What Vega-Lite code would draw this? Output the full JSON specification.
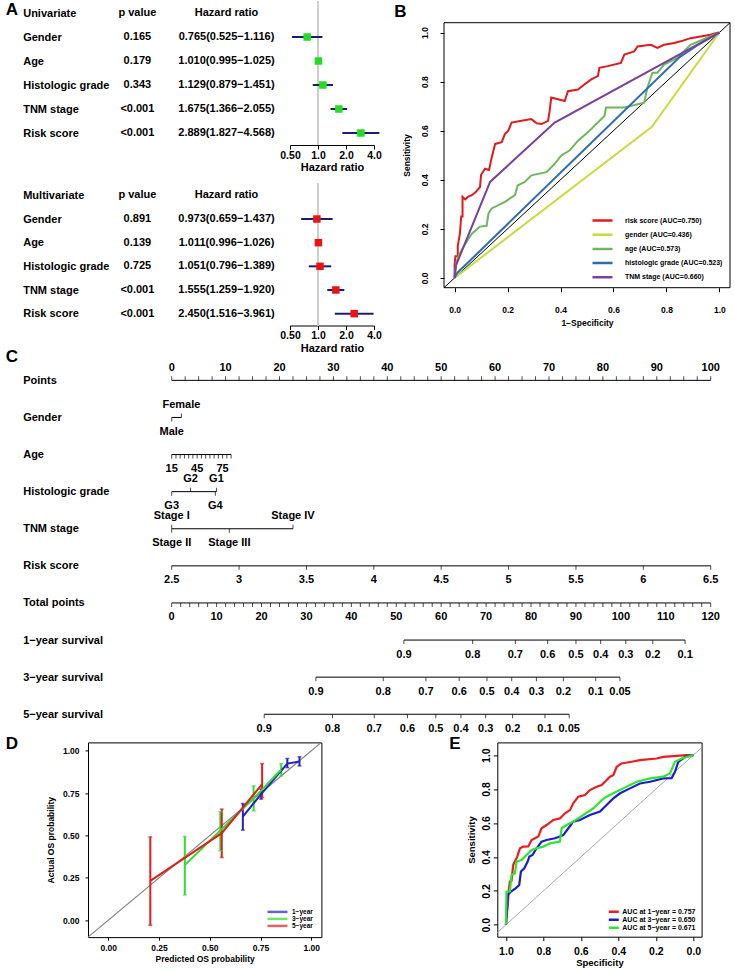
{
"$schema": "https://vega.github.io/schema/vega-lite/v6.json",
"background": "white",
"padding": {"left": 5, "top": 0, "right": 0, "bottom": 0},
"config": {
  "view": {"stroke": null},
  "font": "Liberation Sans",
  "axis": {"labelFont": "Liberation Sans", "titleFont": "Liberation Sans", "labelFontWeight": "bold", "titleFontWeight": "bold", "labelColor": "black", "titleColor": "black", "tickColor": "black", "domainColor": "black", "grid": false},
  "legend": {"labelFont": "Liberation Sans", "labelFontWeight": "bold", "labelColor": "black"},
  "title": {"font": "Liberation Sans", "fontWeight": "bold", "fontSize": 17, "color": "black", "anchor": "start", "baseline": "bottom"},
  "text": {"font": "Liberation Sans", "fontWeight": "bold", "color": "black"}
},
"datasets": {
  "uni": [
    {"variable": "Univariate", "p": "p value", "hrtext": "Hazard ratio"},
    {"variable": "Gender", "p": "0.165", "hrtext": "0.765(0.525−1.116)", "hr": 0.765, "lo": 0.525, "hi": 1.116},
    {"variable": "Age", "p": "0.179", "hrtext": "1.010(0.995−1.025)", "hr": 1.010, "lo": 0.995, "hi": 1.025},
    {"variable": "Histologic grade", "p": "0.343", "hrtext": "1.129(0.879−1.451)", "hr": 1.129, "lo": 0.879, "hi": 1.451},
    {"variable": "TNM stage", "p": "<0.001", "hrtext": "1.675(1.366−2.055)", "hr": 1.675, "lo": 1.366, "hi": 2.055},
    {"variable": "Risk score", "p": "<0.001", "hrtext": "2.889(1.827−4.568)", "hr": 2.889, "lo": 1.827, "hi": 4.568}
  ],
  "multi": [
    {"variable": "Multivariate", "p": "p value", "hrtext": "Hazard ratio"},
    {"variable": "Gender", "p": "0.891", "hrtext": "0.973(0.659−1.437)", "hr": 0.973, "lo": 0.659, "hi": 1.437},
    {"variable": "Age", "p": "0.139", "hrtext": "1.011(0.996−1.026)", "hr": 1.011, "lo": 0.996, "hi": 1.026},
    {"variable": "Histologic grade", "p": "0.725", "hrtext": "1.051(0.796−1.389)", "hr": 1.051, "lo": 0.796, "hi": 1.389},
    {"variable": "TNM stage", "p": "<0.001", "hrtext": "1.555(1.259−1.920)", "hr": 1.555, "lo": 1.259, "hi": 1.920},
    {"variable": "Risk score", "p": "<0.001", "hrtext": "2.450(1.516−3.961)", "hr": 2.450, "lo": 1.516, "hi": 3.961}
  ],
  "roc": [
    {"series": "risk score (AUC=0.750)", "fpr": 0, "tpr": 0},
    {"series": "risk score (AUC=0.750)", "fpr": 0, "tpr": 0.05},
    {"series": "risk score (AUC=0.750)", "fpr": 0.003, "tpr": 0.088},
    {"series": "risk score (AUC=0.750)", "fpr": 0.012, "tpr": 0.088},
    {"series": "risk score (AUC=0.750)", "fpr": 0.012, "tpr": 0.13},
    {"series": "risk score (AUC=0.750)", "fpr": 0.02, "tpr": 0.18},
    {"series": "risk score (AUC=0.750)", "fpr": 0.025, "tpr": 0.25},
    {"series": "risk score (AUC=0.750)", "fpr": 0.03, "tpr": 0.25},
    {"series": "risk score (AUC=0.750)", "fpr": 0.03, "tpr": 0.33},
    {"series": "risk score (AUC=0.750)", "fpr": 0.04, "tpr": 0.32},
    {"series": "risk score (AUC=0.750)", "fpr": 0.05, "tpr": 0.33},
    {"series": "risk score (AUC=0.750)", "fpr": 0.065, "tpr": 0.337},
    {"series": "risk score (AUC=0.750)", "fpr": 0.08, "tpr": 0.35},
    {"series": "risk score (AUC=0.750)", "fpr": 0.096, "tpr": 0.37},
    {"series": "risk score (AUC=0.750)", "fpr": 0.1, "tpr": 0.42},
    {"series": "risk score (AUC=0.750)", "fpr": 0.115, "tpr": 0.445},
    {"series": "risk score (AUC=0.750)", "fpr": 0.13, "tpr": 0.44},
    {"series": "risk score (AUC=0.750)", "fpr": 0.14, "tpr": 0.49},
    {"series": "risk score (AUC=0.750)", "fpr": 0.153, "tpr": 0.546},
    {"series": "risk score (AUC=0.750)", "fpr": 0.178, "tpr": 0.553},
    {"series": "risk score (AUC=0.750)", "fpr": 0.19, "tpr": 0.586},
    {"series": "risk score (AUC=0.750)", "fpr": 0.203, "tpr": 0.6},
    {"series": "risk score (AUC=0.750)", "fpr": 0.215, "tpr": 0.633},
    {"series": "risk score (AUC=0.750)", "fpr": 0.253, "tpr": 0.64},
    {"series": "risk score (AUC=0.750)", "fpr": 0.29, "tpr": 0.647},
    {"series": "risk score (AUC=0.750)", "fpr": 0.31, "tpr": 0.63},
    {"series": "risk score (AUC=0.750)", "fpr": 0.328, "tpr": 0.627},
    {"series": "risk score (AUC=0.750)", "fpr": 0.353, "tpr": 0.64},
    {"series": "risk score (AUC=0.750)", "fpr": 0.359, "tpr": 0.681},
    {"series": "risk score (AUC=0.750)", "fpr": 0.365, "tpr": 0.735},
    {"series": "risk score (AUC=0.750)", "fpr": 0.39, "tpr": 0.728},
    {"series": "risk score (AUC=0.750)", "fpr": 0.416, "tpr": 0.721},
    {"series": "risk score (AUC=0.750)", "fpr": 0.428, "tpr": 0.761},
    {"series": "risk score (AUC=0.750)", "fpr": 0.466, "tpr": 0.768},
    {"series": "risk score (AUC=0.750)", "fpr": 0.49, "tpr": 0.788},
    {"series": "risk score (AUC=0.750)", "fpr": 0.516, "tpr": 0.809},
    {"series": "risk score (AUC=0.750)", "fpr": 0.541, "tpr": 0.822},
    {"series": "risk score (AUC=0.750)", "fpr": 0.547, "tpr": 0.856},
    {"series": "risk score (AUC=0.750)", "fpr": 0.578, "tpr": 0.863},
    {"series": "risk score (AUC=0.750)", "fpr": 0.628, "tpr": 0.876},
    {"series": "risk score (AUC=0.750)", "fpr": 0.641, "tpr": 0.91},
    {"series": "risk score (AUC=0.750)", "fpr": 0.678, "tpr": 0.923},
    {"series": "risk score (AUC=0.750)", "fpr": 0.691, "tpr": 0.943},
    {"series": "risk score (AUC=0.750)", "fpr": 0.741, "tpr": 0.95},
    {"series": "risk score (AUC=0.750)", "fpr": 0.766, "tpr": 0.937},
    {"series": "risk score (AUC=0.750)", "fpr": 0.791, "tpr": 0.95},
    {"series": "risk score (AUC=0.750)", "fpr": 0.829, "tpr": 0.957},
    {"series": "risk score (AUC=0.750)", "fpr": 0.854, "tpr": 0.964},
    {"series": "risk score (AUC=0.750)", "fpr": 0.891, "tpr": 0.977},
    {"series": "risk score (AUC=0.750)", "fpr": 0.929, "tpr": 0.984},
    {"series": "risk score (AUC=0.750)", "fpr": 0.966, "tpr": 0.991},
    {"series": "risk score (AUC=0.750)", "fpr": 0.985, "tpr": 0.997},
    {"series": "risk score (AUC=0.750)", "fpr": 1, "tpr": 1},
    {"series": "gender (AUC=0.436)", "fpr": 0, "tpr": 0},
    {"series": "gender (AUC=0.436)", "fpr": 0.745, "tpr": 0.616},
    {"series": "gender (AUC=0.436)", "fpr": 1, "tpr": 1},
    {"series": "age (AUC=0.573)", "fpr": 0, "tpr": 0},
    {"series": "age (AUC=0.573)", "fpr": 0.006, "tpr": 0.06},
    {"series": "age (AUC=0.573)", "fpr": 0.015, "tpr": 0.09},
    {"series": "age (AUC=0.573)", "fpr": 0.034, "tpr": 0.128},
    {"series": "age (AUC=0.573)", "fpr": 0.065, "tpr": 0.18},
    {"series": "age (AUC=0.573)", "fpr": 0.096, "tpr": 0.209},
    {"series": "age (AUC=0.573)", "fpr": 0.121, "tpr": 0.212},
    {"series": "age (AUC=0.573)", "fpr": 0.128, "tpr": 0.263},
    {"series": "age (AUC=0.573)", "fpr": 0.14, "tpr": 0.283},
    {"series": "age (AUC=0.573)", "fpr": 0.19, "tpr": 0.31},
    {"series": "age (AUC=0.573)", "fpr": 0.228, "tpr": 0.337},
    {"series": "age (AUC=0.573)", "fpr": 0.238, "tpr": 0.377},
    {"series": "age (AUC=0.573)", "fpr": 0.265, "tpr": 0.391},
    {"series": "age (AUC=0.573)", "fpr": 0.29, "tpr": 0.418},
    {"series": "age (AUC=0.573)", "fpr": 0.347, "tpr": 0.431},
    {"series": "age (AUC=0.573)", "fpr": 0.378, "tpr": 0.465},
    {"series": "age (AUC=0.573)", "fpr": 0.403, "tpr": 0.499},
    {"series": "age (AUC=0.573)", "fpr": 0.434, "tpr": 0.519},
    {"series": "age (AUC=0.573)", "fpr": 0.466, "tpr": 0.559},
    {"series": "age (AUC=0.573)", "fpr": 0.503, "tpr": 0.593},
    {"series": "age (AUC=0.573)", "fpr": 0.566, "tpr": 0.66},
    {"series": "age (AUC=0.573)", "fpr": 0.572, "tpr": 0.694},
    {"series": "age (AUC=0.573)", "fpr": 0.641, "tpr": 0.694},
    {"series": "age (AUC=0.573)", "fpr": 0.716, "tpr": 0.714},
    {"series": "age (AUC=0.573)", "fpr": 0.728, "tpr": 0.775},
    {"series": "age (AUC=0.573)", "fpr": 0.747, "tpr": 0.836},
    {"series": "age (AUC=0.573)", "fpr": 0.766, "tpr": 0.836},
    {"series": "age (AUC=0.573)", "fpr": 0.791, "tpr": 0.869},
    {"series": "age (AUC=0.573)", "fpr": 0.841, "tpr": 0.896},
    {"series": "age (AUC=0.573)", "fpr": 0.891, "tpr": 0.95},
    {"series": "age (AUC=0.573)", "fpr": 1, "tpr": 1},
    {"series": "histologic grade (AUC=0.523)", "fpr": 0, "tpr": 0},
    {"series": "histologic grade (AUC=0.523)", "fpr": 0.01, "tpr": 0.02},
    {"series": "histologic grade (AUC=0.523)", "fpr": 0.85, "tpr": 0.9},
    {"series": "histologic grade (AUC=0.523)", "fpr": 0.92, "tpr": 0.95},
    {"series": "histologic grade (AUC=0.523)", "fpr": 1, "tpr": 1},
    {"series": "TNM stage (AUC=0.660)", "fpr": 0, "tpr": 0},
    {"series": "TNM stage (AUC=0.660)", "fpr": 0.005, "tpr": 0.05},
    {"series": "TNM stage (AUC=0.660)", "fpr": 0.134, "tpr": 0.391},
    {"series": "TNM stage (AUC=0.660)", "fpr": 0.378, "tpr": 0.633},
    {"series": "TNM stage (AUC=0.660)", "fpr": 1, "tpr": 1}
  ],
  "nomo1": [
    {"row": "Points", "pts": 0, "label": "0", "pos": "above"},
    {"row": "Points", "pts": 2.5, "pos": "above"},
    {"row": "Points", "pts": 5, "pos": "above"},
    {"row": "Points", "pts": 7.5, "pos": "above"},
    {"row": "Points", "pts": 10, "label": "10", "pos": "above"},
    {"row": "Points", "pts": 12.5, "pos": "above"},
    {"row": "Points", "pts": 15, "pos": "above"},
    {"row": "Points", "pts": 17.5, "pos": "above"},
    {"row": "Points", "pts": 20, "label": "20", "pos": "above"},
    {"row": "Points", "pts": 22.5, "pos": "above"},
    {"row": "Points", "pts": 25, "pos": "above"},
    {"row": "Points", "pts": 27.5, "pos": "above"},
    {"row": "Points", "pts": 30, "label": "30", "pos": "above"},
    {"row": "Points", "pts": 32.5, "pos": "above"},
    {"row": "Points", "pts": 35, "pos": "above"},
    {"row": "Points", "pts": 37.5, "pos": "above"},
    {"row": "Points", "pts": 40, "label": "40", "pos": "above"},
    {"row": "Points", "pts": 42.5, "pos": "above"},
    {"row": "Points", "pts": 45, "pos": "above"},
    {"row": "Points", "pts": 47.5, "pos": "above"},
    {"row": "Points", "pts": 50, "label": "50", "pos": "above"},
    {"row": "Points", "pts": 52.5, "pos": "above"},
    {"row": "Points", "pts": 55, "pos": "above"},
    {"row": "Points", "pts": 57.5, "pos": "above"},
    {"row": "Points", "pts": 60, "label": "60", "pos": "above"},
    {"row": "Points", "pts": 62.5, "pos": "above"},
    {"row": "Points", "pts": 65, "pos": "above"},
    {"row": "Points", "pts": 67.5, "pos": "above"},
    {"row": "Points", "pts": 70, "label": "70", "pos": "above"},
    {"row": "Points", "pts": 72.5, "pos": "above"},
    {"row": "Points", "pts": 75, "pos": "above"},
    {"row": "Points", "pts": 77.5, "pos": "above"},
    {"row": "Points", "pts": 80, "label": "80", "pos": "above"},
    {"row": "Points", "pts": 82.5, "pos": "above"},
    {"row": "Points", "pts": 85, "pos": "above"},
    {"row": "Points", "pts": 87.5, "pos": "above"},
    {"row": "Points", "pts": 90, "label": "90", "pos": "above"},
    {"row": "Points", "pts": 92.5, "pos": "above"},
    {"row": "Points", "pts": 95, "pos": "above"},
    {"row": "Points", "pts": 97.5, "pos": "above"},
    {"row": "Points", "pts": 100, "label": "100", "pos": "above"},
    {"row": "Gender", "pts": 0, "label": "Male", "pos": "below"},
    {"row": "Gender", "pts": 1.8, "label": "Female", "pos": "above"},
    {"row": "Age", "pts": 0, "label": "15", "pos": "below"},
    {"row": "Age", "pts": 0.79, "pos": "below"},
    {"row": "Age", "pts": 1.57, "pos": "below"},
    {"row": "Age", "pts": 2.36, "pos": "below"},
    {"row": "Age", "pts": 3.15, "pos": "below"},
    {"row": "Age", "pts": 3.93, "pos": "below"},
    {"row": "Age", "pts": 4.72, "label": "45", "pos": "below"},
    {"row": "Age", "pts": 5.51, "pos": "below"},
    {"row": "Age", "pts": 6.3, "pos": "below"},
    {"row": "Age", "pts": 7.08, "pos": "below"},
    {"row": "Age", "pts": 7.87, "pos": "below"},
    {"row": "Age", "pts": 8.66, "pos": "below"},
    {"row": "Age", "pts": 9.44, "label": "75", "pos": "below"},
    {"row": "Age", "pts": 10.23, "pos": "below"},
    {"row": "Age", "pts": 11.02, "pos": "below"},
    {"row": "Histologic grade", "pts": 0, "label": "G3", "pos": "below"},
    {"row": "Histologic grade", "pts": 3.5, "label": "G2", "pos": "above"},
    {"row": "Histologic grade", "pts": 8.1, "label": "G4", "pos": "below"},
    {"row": "Histologic grade", "pts": 8.3, "label": "G1", "pos": "above"},
    {"row": "TNM stage", "pts": 0, "label": "Stage I", "pos": "above"},
    {"row": "TNM stage", "pts": 0, "label": "Stage II", "pos": "below"},
    {"row": "TNM stage", "pts": 10.7, "label": "Stage III", "pos": "below"},
    {"row": "TNM stage", "pts": 22.5, "label": "Stage IV", "pos": "above"},
    {"row": "Risk score", "pts": 0, "label": "2.5", "pos": "below"},
    {"row": "Risk score", "pts": 12.5, "label": "3", "pos": "below"},
    {"row": "Risk score", "pts": 25, "label": "3.5", "pos": "below"},
    {"row": "Risk score", "pts": 37.5, "label": "4", "pos": "below"},
    {"row": "Risk score", "pts": 50, "label": "4.5", "pos": "below"},
    {"row": "Risk score", "pts": 62.5, "label": "5", "pos": "below"},
    {"row": "Risk score", "pts": 75, "label": "5.5", "pos": "below"},
    {"row": "Risk score", "pts": 87.5, "label": "6", "pos": "below"},
    {"row": "Risk score", "pts": 100, "label": "6.5", "pos": "below"}
  ],
  "nomo2": [
    {"row": "Total points", "tot": 0, "label": "0", "pos": "below"},
    {"row": "Total points", "tot": 2, "pos": "below"},
    {"row": "Total points", "tot": 4, "pos": "below"},
    {"row": "Total points", "tot": 6, "pos": "below"},
    {"row": "Total points", "tot": 8, "pos": "below"},
    {"row": "Total points", "tot": 10, "label": "10", "pos": "below"},
    {"row": "Total points", "tot": 12, "pos": "below"},
    {"row": "Total points", "tot": 14, "pos": "below"},
    {"row": "Total points", "tot": 16, "pos": "below"},
    {"row": "Total points", "tot": 18, "pos": "below"},
    {"row": "Total points", "tot": 20, "label": "20", "pos": "below"},
    {"row": "Total points", "tot": 22, "pos": "below"},
    {"row": "Total points", "tot": 24, "pos": "below"},
    {"row": "Total points", "tot": 26, "pos": "below"},
    {"row": "Total points", "tot": 28, "pos": "below"},
    {"row": "Total points", "tot": 30, "label": "30", "pos": "below"},
    {"row": "Total points", "tot": 32, "pos": "below"},
    {"row": "Total points", "tot": 34, "pos": "below"},
    {"row": "Total points", "tot": 36, "pos": "below"},
    {"row": "Total points", "tot": 38, "pos": "below"},
    {"row": "Total points", "tot": 40, "label": "40", "pos": "below"},
    {"row": "Total points", "tot": 42, "pos": "below"},
    {"row": "Total points", "tot": 44, "pos": "below"},
    {"row": "Total points", "tot": 46, "pos": "below"},
    {"row": "Total points", "tot": 48, "pos": "below"},
    {"row": "Total points", "tot": 50, "label": "50", "pos": "below"},
    {"row": "Total points", "tot": 52, "pos": "below"},
    {"row": "Total points", "tot": 54, "pos": "below"},
    {"row": "Total points", "tot": 56, "pos": "below"},
    {"row": "Total points", "tot": 58, "pos": "below"},
    {"row": "Total points", "tot": 60, "label": "60", "pos": "below"},
    {"row": "Total points", "tot": 62, "pos": "below"},
    {"row": "Total points", "tot": 64, "pos": "below"},
    {"row": "Total points", "tot": 66, "pos": "below"},
    {"row": "Total points", "tot": 68, "pos": "below"},
    {"row": "Total points", "tot": 70, "label": "70", "pos": "below"},
    {"row": "Total points", "tot": 72, "pos": "below"},
    {"row": "Total points", "tot": 74, "pos": "below"},
    {"row": "Total points", "tot": 76, "pos": "below"},
    {"row": "Total points", "tot": 78, "pos": "below"},
    {"row": "Total points", "tot": 80, "label": "80", "pos": "below"},
    {"row": "Total points", "tot": 82, "pos": "below"},
    {"row": "Total points", "tot": 84, "pos": "below"},
    {"row": "Total points", "tot": 86, "pos": "below"},
    {"row": "Total points", "tot": 88, "pos": "below"},
    {"row": "Total points", "tot": 90, "label": "90", "pos": "below"},
    {"row": "Total points", "tot": 92, "pos": "below"},
    {"row": "Total points", "tot": 94, "pos": "below"},
    {"row": "Total points", "tot": 96, "pos": "below"},
    {"row": "Total points", "tot": 98, "pos": "below"},
    {"row": "Total points", "tot": 100, "label": "100", "pos": "below"},
    {"row": "Total points", "tot": 102, "pos": "below"},
    {"row": "Total points", "tot": 104, "pos": "below"},
    {"row": "Total points", "tot": 106, "pos": "below"},
    {"row": "Total points", "tot": 108, "pos": "below"},
    {"row": "Total points", "tot": 110, "label": "110", "pos": "below"},
    {"row": "Total points", "tot": 112, "pos": "below"},
    {"row": "Total points", "tot": 114, "pos": "below"},
    {"row": "Total points", "tot": 116, "pos": "below"},
    {"row": "Total points", "tot": 118, "pos": "below"},
    {"row": "Total points", "tot": 120, "label": "120", "pos": "below"},
    {"row": "1−year survival", "tot": 51.7, "label": "0.9", "pos": "below"},
    {"row": "1−year survival", "tot": 67.0, "label": "0.8", "pos": "below"},
    {"row": "1−year survival", "tot": 76.5, "label": "0.7", "pos": "below"},
    {"row": "1−year survival", "tot": 83.7, "label": "0.6", "pos": "below"},
    {"row": "1−year survival", "tot": 90.0, "label": "0.5", "pos": "below"},
    {"row": "1−year survival", "tot": 95.5, "label": "0.4", "pos": "below"},
    {"row": "1−year survival", "tot": 101.1, "label": "0.3", "pos": "below"},
    {"row": "1−year survival", "tot": 107.1, "label": "0.2", "pos": "below"},
    {"row": "1−year survival", "tot": 114.3, "label": "0.1", "pos": "below"},
    {"row": "3−year survival", "tot": 32.1, "label": "0.9", "pos": "below"},
    {"row": "3−year survival", "tot": 47.1, "label": "0.8", "pos": "below"},
    {"row": "3−year survival", "tot": 56.6, "label": "0.7", "pos": "below"},
    {"row": "3−year survival", "tot": 64.0, "label": "0.6", "pos": "below"},
    {"row": "3−year survival", "tot": 70.2, "label": "0.5", "pos": "below"},
    {"row": "3−year survival", "tot": 75.7, "label": "0.4", "pos": "below"},
    {"row": "3−year survival", "tot": 81.2, "label": "0.3", "pos": "below"},
    {"row": "3−year survival", "tot": 87.2, "label": "0.2", "pos": "below"},
    {"row": "3−year survival", "tot": 94.4, "label": "0.1", "pos": "below"},
    {"row": "3−year survival", "tot": 99.8, "label": "0.05", "pos": "below"},
    {"row": "5−year survival", "tot": 20.6, "label": "0.9", "pos": "below"},
    {"row": "5−year survival", "tot": 35.8, "label": "0.8", "pos": "below"},
    {"row": "5−year survival", "tot": 45.1, "label": "0.7", "pos": "below"},
    {"row": "5−year survival", "tot": 52.5, "label": "0.6", "pos": "below"},
    {"row": "5−year survival", "tot": 58.8, "label": "0.5", "pos": "below"},
    {"row": "5−year survival", "tot": 64.4, "label": "0.4", "pos": "below"},
    {"row": "5−year survival", "tot": 69.9, "label": "0.3", "pos": "below"},
    {"row": "5−year survival", "tot": 75.9, "label": "0.2", "pos": "below"},
    {"row": "5−year survival", "tot": 83.1, "label": "0.1", "pos": "below"},
    {"row": "5−year survival", "tot": 88.5, "label": "0.05", "pos": "below"}
  ],
  "calib": [
    {"year": "1−year", "pred": 0.663, "obs": 0.612, "lo": 0.532, "hi": 0.689},
    {"year": "1−year", "pred": 0.753, "obs": 0.745, "lo": 0.715, "hi": 0.775},
    {"year": "1−year", "pred": 0.882, "obs": 0.925, "lo": 0.901, "hi": 0.955},
    {"year": "1−year", "pred": 0.942, "obs": 0.937, "lo": 0.911, "hi": 0.965},
    {"year": "3−year", "pred": 0.377, "obs": 0.325, "lo": 0.149, "hi": 0.494},
    {"year": "3−year", "pred": 0.552, "obs": 0.53, "lo": 0.41, "hi": 0.64},
    {"year": "3−year", "pred": 0.716, "obs": 0.72, "lo": 0.646, "hi": 0.793},
    {"year": "3−year", "pred": 0.852, "obs": 0.89, "lo": 0.852, "hi": 0.925},
    {"year": "5−year", "pred": 0.207, "obs": 0.232, "lo": -0.03, "hi": 0.492},
    {"year": "5−year", "pred": 0.559, "obs": 0.514, "lo": 0.37, "hi": 0.656},
    {"year": "5−year", "pred": 0.758, "obs": 0.803, "lo": 0.724, "hi": 0.925}
  ],
  "roc2": [
    {"curve": "AUC at 1−year = 0.757", "spec": 1, "sens": 0},
    {"curve": "AUC at 1−year = 0.757", "spec": 0.99, "sens": 0.12},
    {"curve": "AUC at 1−year = 0.757", "spec": 0.985, "sens": 0.2},
    {"curve": "AUC at 1−year = 0.757", "spec": 0.979, "sens": 0.255},
    {"curve": "AUC at 1−year = 0.757", "spec": 0.97, "sens": 0.26},
    {"curve": "AUC at 1−year = 0.757", "spec": 0.961, "sens": 0.353},
    {"curve": "AUC at 1−year = 0.757", "spec": 0.952, "sens": 0.373},
    {"curve": "AUC at 1−year = 0.757", "spec": 0.94, "sens": 0.4},
    {"curve": "AUC at 1−year = 0.757", "spec": 0.925, "sens": 0.451},
    {"curve": "AUC at 1−year = 0.757", "spec": 0.907, "sens": 0.461},
    {"curve": "AUC at 1−year = 0.757", "spec": 0.881, "sens": 0.462},
    {"curve": "AUC at 1−year = 0.757", "spec": 0.863, "sens": 0.5},
    {"curve": "AUC at 1−year = 0.757", "spec": 0.845, "sens": 0.51},
    {"curve": "AUC at 1−year = 0.757", "spec": 0.827, "sens": 0.52},
    {"curve": "AUC at 1−year = 0.757", "spec": 0.81, "sens": 0.569},
    {"curve": "AUC at 1−year = 0.757", "spec": 0.783, "sens": 0.588},
    {"curve": "AUC at 1−year = 0.757", "spec": 0.747, "sens": 0.618},
    {"curve": "AUC at 1−year = 0.757", "spec": 0.712, "sens": 0.627},
    {"curve": "AUC at 1−year = 0.757", "spec": 0.685, "sens": 0.657},
    {"curve": "AUC at 1−year = 0.757", "spec": 0.658, "sens": 0.676},
    {"curve": "AUC at 1−year = 0.757", "spec": 0.641, "sens": 0.716},
    {"curve": "AUC at 1−year = 0.757", "spec": 0.614, "sens": 0.755},
    {"curve": "AUC at 1−year = 0.757", "spec": 0.578, "sens": 0.765},
    {"curve": "AUC at 1−year = 0.757", "spec": 0.552, "sens": 0.794},
    {"curve": "AUC at 1−year = 0.757", "spec": 0.516, "sens": 0.814},
    {"curve": "AUC at 1−year = 0.757", "spec": 0.489, "sens": 0.824},
    {"curve": "AUC at 1−year = 0.757", "spec": 0.472, "sens": 0.843},
    {"curve": "AUC at 1−year = 0.757", "spec": 0.445, "sens": 0.873},
    {"curve": "AUC at 1−year = 0.757", "spec": 0.427, "sens": 0.882},
    {"curve": "AUC at 1−year = 0.757", "spec": 0.409, "sens": 0.931},
    {"curve": "AUC at 1−year = 0.757", "spec": 0.383, "sens": 0.951},
    {"curve": "AUC at 1−year = 0.757", "spec": 0.329, "sens": 0.961},
    {"curve": "AUC at 1−year = 0.757", "spec": 0.285, "sens": 0.971},
    {"curve": "AUC at 1−year = 0.757", "spec": 0.196, "sens": 0.98},
    {"curve": "AUC at 1−year = 0.757", "spec": 0.16, "sens": 0.99},
    {"curve": "AUC at 1−year = 0.757", "spec": 0.036, "sens": 1},
    {"curve": "AUC at 1−year = 0.757", "spec": 0, "sens": 1},
    {"curve": "AUC at 3−year = 0.650", "spec": 1, "sens": 0},
    {"curve": "AUC at 3−year = 0.650", "spec": 0.996, "sens": 0.059},
    {"curve": "AUC at 3−year = 0.650", "spec": 0.99, "sens": 0.176},
    {"curve": "AUC at 3−year = 0.650", "spec": 0.973, "sens": 0.196},
    {"curve": "AUC at 3−year = 0.650", "spec": 0.947, "sens": 0.216},
    {"curve": "AUC at 3−year = 0.650", "spec": 0.929, "sens": 0.235},
    {"curve": "AUC at 3−year = 0.650", "spec": 0.92, "sens": 0.314},
    {"curve": "AUC at 3−year = 0.650", "spec": 0.902, "sens": 0.333},
    {"curve": "AUC at 3−year = 0.650", "spec": 0.884, "sens": 0.373},
    {"curve": "AUC at 3−year = 0.650", "spec": 0.875, "sens": 0.402},
    {"curve": "AUC at 3−year = 0.650", "spec": 0.858, "sens": 0.412},
    {"curve": "AUC at 3−year = 0.650", "spec": 0.836, "sens": 0.451},
    {"curve": "AUC at 3−year = 0.650", "spec": 0.81, "sens": 0.49},
    {"curve": "AUC at 3−year = 0.650", "spec": 0.783, "sens": 0.5},
    {"curve": "AUC at 3−year = 0.650", "spec": 0.738, "sens": 0.51},
    {"curve": "AUC at 3−year = 0.650", "spec": 0.712, "sens": 0.52},
    {"curve": "AUC at 3−year = 0.650", "spec": 0.694, "sens": 0.529},
    {"curve": "AUC at 3−year = 0.650", "spec": 0.667, "sens": 0.569},
    {"curve": "AUC at 3−year = 0.650", "spec": 0.641, "sens": 0.608},
    {"curve": "AUC at 3−year = 0.650", "spec": 0.605, "sens": 0.618},
    {"curve": "AUC at 3−year = 0.650", "spec": 0.552, "sens": 0.647},
    {"curve": "AUC at 3−year = 0.650", "spec": 0.498, "sens": 0.667},
    {"curve": "AUC at 3−year = 0.650", "spec": 0.463, "sens": 0.706},
    {"curve": "AUC at 3−year = 0.650", "spec": 0.427, "sens": 0.745},
    {"curve": "AUC at 3−year = 0.650", "spec": 0.391, "sens": 0.775},
    {"curve": "AUC at 3−year = 0.650", "spec": 0.338, "sens": 0.804},
    {"curve": "AUC at 3−year = 0.650", "spec": 0.285, "sens": 0.833},
    {"curve": "AUC at 3−year = 0.650", "spec": 0.231, "sens": 0.843},
    {"curve": "AUC at 3−year = 0.650", "spec": 0.16, "sens": 0.863},
    {"curve": "AUC at 3−year = 0.650", "spec": 0.116, "sens": 0.864},
    {"curve": "AUC at 3−year = 0.650", "spec": 0.098, "sens": 0.902},
    {"curve": "AUC at 3−year = 0.650", "spec": 0.08, "sens": 0.961},
    {"curve": "AUC at 3−year = 0.650", "spec": 0.044, "sens": 0.99},
    {"curve": "AUC at 3−year = 0.650", "spec": 0, "sens": 1},
    {"curve": "AUC at 5−year = 0.671", "spec": 1, "sens": 0},
    {"curve": "AUC at 5−year = 0.671", "spec": 0.997, "sens": 0.196},
    {"curve": "AUC at 5−year = 0.671", "spec": 0.979, "sens": 0.197},
    {"curve": "AUC at 5−year = 0.671", "spec": 0.97, "sens": 0.294},
    {"curve": "AUC at 5−year = 0.671", "spec": 0.952, "sens": 0.304},
    {"curve": "AUC at 5−year = 0.671", "spec": 0.943, "sens": 0.373},
    {"curve": "AUC at 5−year = 0.671", "spec": 0.916, "sens": 0.382},
    {"curve": "AUC at 5−year = 0.671", "spec": 0.89, "sens": 0.412},
    {"curve": "AUC at 5−year = 0.671", "spec": 0.863, "sens": 0.441},
    {"curve": "AUC at 5−year = 0.671", "spec": 0.836, "sens": 0.451},
    {"curve": "AUC at 5−year = 0.671", "spec": 0.8, "sens": 0.461},
    {"curve": "AUC at 5−year = 0.671", "spec": 0.765, "sens": 0.48},
    {"curve": "AUC at 5−year = 0.671", "spec": 0.712, "sens": 0.49},
    {"curve": "AUC at 5−year = 0.671", "spec": 0.703, "sens": 0.569},
    {"curve": "AUC at 5−year = 0.671", "spec": 0.676, "sens": 0.588},
    {"curve": "AUC at 5−year = 0.671", "spec": 0.641, "sens": 0.608},
    {"curve": "AUC at 5−year = 0.671", "spec": 0.587, "sens": 0.647},
    {"curve": "AUC at 5−year = 0.671", "spec": 0.534, "sens": 0.686},
    {"curve": "AUC at 5−year = 0.671", "spec": 0.489, "sens": 0.735},
    {"curve": "AUC at 5−year = 0.671", "spec": 0.463, "sens": 0.755},
    {"curve": "AUC at 5−year = 0.671", "spec": 0.427, "sens": 0.775},
    {"curve": "AUC at 5−year = 0.671", "spec": 0.374, "sens": 0.804},
    {"curve": "AUC at 5−year = 0.671", "spec": 0.302, "sens": 0.843},
    {"curve": "AUC at 5−year = 0.671", "spec": 0.231, "sens": 0.863},
    {"curve": "AUC at 5−year = 0.671", "spec": 0.16, "sens": 0.873},
    {"curve": "AUC at 5−year = 0.671", "spec": 0.125, "sens": 0.892},
    {"curve": "AUC at 5−year = 0.671", "spec": 0.098, "sens": 0.961},
    {"curve": "AUC at 5−year = 0.671", "spec": 0.062, "sens": 0.98},
    {"curve": "AUC at 5−year = 0.671", "spec": 0, "sens": 1}
  ]
},
"spacing": -0.6,
"resolve": {"scale": {"color": "independent"}, "legend": {"color": "independent"}},
"vconcat": [
 {
  "spacing": -5.2,
  "resolve": {"scale": {"color": "independent"}, "legend": {"color": "independent"}},
  "vconcat": [
   {
    "spacing": 12,
    "resolve": {"scale": {"color": "independent"}, "legend": {"color": "independent"}},
    "hconcat": [
     {
      "title": {"text": "A", "frame": "bounds", "dx": -17, "offset": -19},
      "spacing": 9.5,
      "vconcat": [
       {
        "spacing": 0, "bounds": "flush",
        "hconcat": [
         {"width": 98.7, "height": 144, "data": {"name": "uni"},
          "mark": {"type": "text", "fontSize": 11, "baseline": "middle"},
          "encoding": {
            "y": {"field": "variable", "type": "nominal", "sort": null, "scale": {"type": "point", "padding": 0.5, "domain": ["Univariate", "Gender", "Age", "Histologic grade", "TNM stage", "Risk score"]},
                  "axis": {"title": null, "domain": false, "ticks": false, "labelAlign": "left", "labelBaseline": "middle", "labelPadding": 65.3, "labelFontSize": 11, "labelLimit": 200}},
            "text": {"field": "p"}}},
         {"width": 103, "height": 144, "data": {"name": "uni"},
          "mark": {"type": "text", "fontSize": 11, "baseline": "middle", "dx": -12},
          "encoding": {
            "y": {"field": "variable", "type": "nominal", "sort": null, "scale": {"type": "point", "padding": 0.5, "domain": ["Univariate", "Gender", "Age", "Histologic grade", "TNM stage", "Risk score"]}, "axis": null},
            "text": {"field": "hrtext"}}},
         {"width": 84, "height": 144, "data": {"name": "uni"},
          "layer": [
           {"mark": {"type": "rule", "color": "#cccccc", "strokeWidth": 1.5},
            "encoding": {"x": {"datum": 1, "type": "quantitative", "scale": {"type": "log", "domain": [0.5, 4], "nice": false},
              "axis": {"values": [0.5, 1, 2, 4], "labelExpr": "datum.value < 1 ? format(datum.value, '.2f') : format(datum.value, '.1f')", "title": "Hazard ratio", "titleFontSize": 11, "labelFontSize": 10.5, "tickSize": 4, "labelPadding": 1, "titlePadding": 1, "labelFlush": false, "labelOverlap": false}}}},
           {"mark": {"type": "rule", "color": "#1c1c78", "strokeWidth": 2},
            "encoding": {
              "x": {"field": "lo", "type": "quantitative", "scale": {"type": "log", "domain": [0.5, 4], "nice": false},
                "axis": {"values": [0.5, 1, 2, 4], "labelExpr": "datum.value < 1 ? format(datum.value, '.2f') : format(datum.value, '.1f')", "title": "Hazard ratio", "titleFontSize": 11, "labelFontSize": 10.5, "tickSize": 4, "labelPadding": 1, "titlePadding": 1, "labelFlush": false, "labelOverlap": false}},
              "x2": {"field": "hi"},
              "y": {"field": "variable", "type": "nominal", "sort": null, "scale": {"type": "point", "padding": 0.5, "domain": ["Univariate", "Gender", "Age", "Histologic grade", "TNM stage", "Risk score"]}, "axis": null}}},
           {"mark": {"type": "point", "shape": "square", "filled": true, "size": 56, "opacity": 1, "color": "#22dd22"},
            "encoding": {
              "x": {"field": "hr", "type": "quantitative", "scale": {"type": "log", "domain": [0.5, 4], "nice": false},
                "axis": {"values": [0.5, 1, 2, 4], "labelExpr": "datum.value < 1 ? format(datum.value, '.2f') : format(datum.value, '.1f')", "title": "Hazard ratio", "titleFontSize": 11, "labelFontSize": 10.5, "tickSize": 4, "labelPadding": 1, "titlePadding": 1, "labelFlush": false, "labelOverlap": false}},
              "y": {"field": "variable", "type": "nominal", "sort": null, "scale": {"type": "point", "padding": 0.5, "domain": ["Univariate", "Gender", "Age", "Histologic grade", "TNM stage", "Risk score"]}, "axis": null}}}
          ]}
        ]
       },
       {
        "spacing": 0, "bounds": "flush",
        "hconcat": [
         {"width": 98.7, "height": 142, "data": {"name": "multi"},
          "mark": {"type": "text", "fontSize": 11, "baseline": "middle"},
          "encoding": {
            "y": {"field": "variable", "type": "nominal", "sort": null, "scale": {"type": "point", "padding": 0.5, "domain": ["Multivariate", "Gender", "Age", "Histologic grade", "TNM stage", "Risk score"]},
                  "axis": {"title": null, "domain": false, "ticks": false, "labelAlign": "left", "labelBaseline": "middle", "labelPadding": 65.3, "labelFontSize": 11, "labelLimit": 200}},
            "text": {"field": "p"}}},
         {"width": 103, "height": 142, "data": {"name": "multi"},
          "mark": {"type": "text", "fontSize": 11, "baseline": "middle", "dx": -12},
          "encoding": {
            "y": {"field": "variable", "type": "nominal", "sort": null, "scale": {"type": "point", "padding": 0.5, "domain": ["Multivariate", "Gender", "Age", "Histologic grade", "TNM stage", "Risk score"]}, "axis": null},
            "text": {"field": "hrtext"}}},
         {"width": 84, "height": 142, "data": {"name": "multi"},
          "layer": [
           {"mark": {"type": "rule", "color": "#cccccc", "strokeWidth": 1.5},
            "encoding": {"x": {"datum": 1, "type": "quantitative", "scale": {"type": "log", "domain": [0.5, 4], "nice": false},
              "axis": {"values": [0.5, 1, 2, 4], "labelExpr": "datum.value < 1 ? format(datum.value, '.2f') : format(datum.value, '.1f')", "title": "Hazard ratio", "titleFontSize": 11, "labelFontSize": 10.5, "tickSize": 4, "labelPadding": 1, "titlePadding": 1, "labelFlush": false, "labelOverlap": false}}}},
           {"mark": {"type": "rule", "color": "#1c1c78", "strokeWidth": 2},
            "encoding": {
              "x": {"field": "lo", "type": "quantitative", "scale": {"type": "log", "domain": [0.5, 4], "nice": false},
                "axis": {"values": [0.5, 1, 2, 4], "labelExpr": "datum.value < 1 ? format(datum.value, '.2f') : format(datum.value, '.1f')", "title": "Hazard ratio", "titleFontSize": 11, "labelFontSize": 10.5, "tickSize": 4, "labelPadding": 1, "titlePadding": 1, "labelFlush": false, "labelOverlap": false}},
              "x2": {"field": "hi"},
              "y": {"field": "variable", "type": "nominal", "sort": null, "scale": {"type": "point", "padding": 0.5, "domain": ["Multivariate", "Gender", "Age", "Histologic grade", "TNM stage", "Risk score"]}, "axis": null}}},
           {"mark": {"type": "point", "shape": "square", "filled": true, "size": 56, "opacity": 1, "color": "#ee1111"},
            "encoding": {
              "x": {"field": "hr", "type": "quantitative", "scale": {"type": "log", "domain": [0.5, 4], "nice": false},
                "axis": {"values": [0.5, 1, 2, 4], "labelExpr": "datum.value < 1 ? format(datum.value, '.2f') : format(datum.value, '.1f')", "title": "Hazard ratio", "titleFontSize": 11, "labelFontSize": 10.5, "tickSize": 4, "labelPadding": 1, "titlePadding": 1, "labelFlush": false, "labelOverlap": false}},
              "y": {"field": "variable", "type": "nominal", "sort": null, "scale": {"type": "point", "padding": 0.5, "domain": ["Multivariate", "Gender", "Age", "Histologic grade", "TNM stage", "Risk score"]}, "axis": null}}}
          ]}
        ]
       }
      ]
     },
     {
      "width": 286, "height": 286.7,
      "title": {"text": "B", "frame": "group", "dx": -49.7, "offset": -20},
      "layer": [
       {"data": {"values": [{}]},
        "mark": {"type": "rect", "fillOpacity": 0, "stroke": "black", "strokeWidth": 1},
        "encoding": {
          "x": {"datum": -0.04, "type": "quantitative", "scale": {"domain": [-0.04, 1.04], "nice": false, "zero": false},
            "axis": {"values": [0, 0.2, 0.4, 0.6, 0.8, 1], "format": ".1f", "title": "1−Specificity", "domain": false, "tickSize": 4, "labelPadding": 14, "labelFontSize": 8.5, "titleFontSize": 8.5, "titlePadding": 4, "labelFlush": false, "labelOverlap": false}},
          "y": {"datum": -0.04, "type": "quantitative", "scale": {"domain": [-0.04, 1.1284], "nice": false, "zero": false},
            "axis": {"values": [0, 0.2, 0.4, 0.6, 0.8, 1], "format": ".1f", "title": "Sensitivity", "titleY": 154, "domain": false, "tickSize": 4, "labelAngle": -90, "labelAlign": "center", "labelBaseline": "bottom", "labelPadding": 11, "labelFontSize": 8.5, "titleFontSize": 8.5, "titlePadding": 9, "labelFlush": false, "labelOverlap": false}},
          "x2": {"datum": 1.04}, "y2": {"datum": 1.04}}},
       {"data": {"values": [{}]},
        "mark": {"type": "rule", "color": "black", "strokeWidth": 1},
        "encoding": {
          "x": {"datum": -0.04, "type": "quantitative", "scale": {"domain": [-0.04, 1.04], "nice": false, "zero": false},
            "axis": {"values": [0, 0.2, 0.4, 0.6, 0.8, 1], "format": ".1f", "title": "1−Specificity", "domain": false, "tickSize": 4, "labelPadding": 14, "labelFontSize": 8.5, "titleFontSize": 8.5, "titlePadding": 4, "labelFlush": false, "labelOverlap": false}},
          "y": {"datum": -0.04, "type": "quantitative", "scale": {"domain": [-0.04, 1.1284], "nice": false, "zero": false},
            "axis": {"values": [0, 0.2, 0.4, 0.6, 0.8, 1], "format": ".1f", "title": "Sensitivity", "titleY": 154, "domain": false, "tickSize": 4, "labelAngle": -90, "labelAlign": "center", "labelBaseline": "bottom", "labelPadding": 11, "labelFontSize": 8.5, "titleFontSize": 8.5, "titlePadding": 9, "labelFlush": false, "labelOverlap": false}},
          "x2": {"datum": 1.04}, "y2": {"datum": 1.04}}},
       {"data": {"name": "roc"},
        "mark": {"type": "line", "strokeWidth": 2},
        "encoding": {
          "x": {"field": "fpr", "type": "quantitative", "scale": {"domain": [-0.04, 1.04], "nice": false, "zero": false},
            "axis": {"values": [0, 0.2, 0.4, 0.6, 0.8, 1], "format": ".1f", "title": "1−Specificity", "domain": false, "tickSize": 4, "labelPadding": 14, "labelFontSize": 8.5, "titleFontSize": 8.5, "titlePadding": 4, "labelFlush": false, "labelOverlap": false}},
          "y": {"field": "tpr", "type": "quantitative", "scale": {"domain": [-0.04, 1.1284], "nice": false, "zero": false},
            "axis": {"values": [0, 0.2, 0.4, 0.6, 0.8, 1], "format": ".1f", "title": "Sensitivity", "titleY": 154, "domain": false, "tickSize": 4, "labelAngle": -90, "labelAlign": "center", "labelBaseline": "bottom", "labelPadding": 11, "labelFontSize": 8.5, "titleFontSize": 8.5, "titlePadding": 9, "labelFlush": false, "labelOverlap": false}},
          "color": {"field": "series", "type": "nominal", "sort": null,
            "scale": {"domain": ["risk score (AUC=0.750)", "gender (AUC=0.436)", "age (AUC=0.573)", "histologic grade (AUC=0.523)", "TNM stage (AUC=0.660)"], "range": ["#e31a1c", "#c8dc3c", "#6cb85a", "#2e6db4", "#7b3fa0"]},
            "legend": {"title": null, "orient": "bottom-right", "offset": 7, "symbolType": "stroke", "symbolSize": 400, "symbolStrokeWidth": 2.5, "labelFontSize": 7, "labelOffset": 11, "clipHeight": 7, "rowPadding": 6.2, "padding": 0}}}}
      ]
     }
    ]
   },
   {
    "width": 622.7, "height": 371,
    "title": {"text": "C", "frame": "group", "dx": -82.3, "offset": -4},
    "layer": [
     {"data": {"name": "nomo1"},
      "layer": [
       {"transform": [{"aggregate": [{"op": "min", "field": "pts", "as": "a"}, {"op": "max", "field": "pts", "as": "b"}], "groupby": ["row"]}],
        "mark": {"type": "rule", "color": "black", "strokeWidth": 1},
        "encoding": {
          "x": {"field": "a", "type": "quantitative", "scale": {"domain": [-15.53, 100], "nice": false, "zero": false}, "axis": null},
          "x2": {"field": "b"},
          "y": {"field": "row", "type": "nominal", "sort": null, "scale": {"type": "point", "padding": 0.5, "domain": ["Points", "Gender", "Age", "Histologic grade", "TNM stage", "Risk score", "Total points", "1−year survival", "3−year survival", "5−year survival"]},
            "axis": {"title": null, "domain": false, "ticks": false, "labelAlign": "left", "labelBaseline": "middle", "labelPadding": 65.3, "labelFontSize": 11, "labelLimit": 200}}}},
       {"transform": [{"filter": "datum.pos === 'above'"}],
        "mark": {"type": "tick", "color": "black", "thickness": 1, "size": 4, "yOffset": -2},
        "encoding": {
          "x": {"field": "pts", "type": "quantitative", "scale": {"domain": [-15.53, 100], "nice": false, "zero": false}, "axis": null},
          "y": {"field": "row", "type": "nominal", "sort": null, "scale": {"type": "point", "padding": 0.5, "domain": ["Points", "Gender", "Age", "Histologic grade", "TNM stage", "Risk score", "Total points", "1−year survival", "3−year survival", "5−year survival"]},
            "axis": {"title": null, "domain": false, "ticks": false, "labelAlign": "left", "labelBaseline": "middle", "labelPadding": 65.3, "labelFontSize": 11, "labelLimit": 200}}}},
       {"transform": [{"filter": "datum.pos === 'below'"}],
        "mark": {"type": "tick", "color": "black", "thickness": 1, "size": 4, "yOffset": 2},
        "encoding": {
          "x": {"field": "pts", "type": "quantitative", "scale": {"domain": [-15.53, 100], "nice": false, "zero": false}, "axis": null},
          "y": {"field": "row", "type": "nominal", "sort": null, "scale": {"type": "point", "padding": 0.5, "domain": ["Points", "Gender", "Age", "Histologic grade", "TNM stage", "Risk score", "Total points", "1−year survival", "3−year survival", "5−year survival"]},
            "axis": {"title": null, "domain": false, "ticks": false, "labelAlign": "left", "labelBaseline": "middle", "labelPadding": 65.3, "labelFontSize": 11, "labelLimit": 200}}}},
       {"transform": [{"filter": "datum.pos === 'above' && datum.label"}],
        "mark": {"type": "text", "fontSize": 11, "baseline": "middle", "dy": -12.5},
        "encoding": {
          "x": {"field": "pts", "type": "quantitative", "scale": {"domain": [-15.53, 100], "nice": false, "zero": false}, "axis": null},
          "y": {"field": "row", "type": "nominal", "sort": null, "scale": {"type": "point", "padding": 0.5, "domain": ["Points", "Gender", "Age", "Histologic grade", "TNM stage", "Risk score", "Total points", "1−year survival", "3−year survival", "5−year survival"]},
            "axis": {"title": null, "domain": false, "ticks": false, "labelAlign": "left", "labelBaseline": "middle", "labelPadding": 65.3, "labelFontSize": 11, "labelLimit": 200}},
          "text": {"field": "label"}}},
       {"transform": [{"filter": "datum.pos === 'below' && datum.label"}],
        "mark": {"type": "text", "fontSize": 11, "baseline": "middle", "dy": 14.5},
        "encoding": {
          "x": {"field": "pts", "type": "quantitative", "scale": {"domain": [-15.53, 100], "nice": false, "zero": false}, "axis": null},
          "y": {"field": "row", "type": "nominal", "sort": null, "scale": {"type": "point", "padding": 0.5, "domain": ["Points", "Gender", "Age", "Histologic grade", "TNM stage", "Risk score", "Total points", "1−year survival", "3−year survival", "5−year survival"]},
            "axis": {"title": null, "domain": false, "ticks": false, "labelAlign": "left", "labelBaseline": "middle", "labelPadding": 65.3, "labelFontSize": 11, "labelLimit": 200}},
          "text": {"field": "label"}}}
      ]},
     {"data": {"name": "nomo2"},
      "layer": [
       {"transform": [{"aggregate": [{"op": "min", "field": "tot", "as": "a"}, {"op": "max", "field": "tot", "as": "b"}], "groupby": ["row"]}],
        "mark": {"type": "rule", "color": "black", "strokeWidth": 1},
        "encoding": {
          "x": {"field": "a", "type": "quantitative", "scale": {"domain": [-18.63, 120], "nice": false, "zero": false}, "axis": null},
          "x2": {"field": "b"},
          "y": {"field": "row", "type": "nominal", "sort": null, "scale": {"type": "point", "padding": 0.5, "domain": ["Points", "Gender", "Age", "Histologic grade", "TNM stage", "Risk score", "Total points", "1−year survival", "3−year survival", "5−year survival"]},
            "axis": {"title": null, "domain": false, "ticks": false, "labelAlign": "left", "labelBaseline": "middle", "labelPadding": 65.3, "labelFontSize": 11, "labelLimit": 200}}}},
       {"mark": {"type": "tick", "color": "black", "thickness": 1, "size": 4, "yOffset": 2},
        "encoding": {
          "x": {"field": "tot", "type": "quantitative", "scale": {"domain": [-18.63, 120], "nice": false, "zero": false}, "axis": null},
          "y": {"field": "row", "type": "nominal", "sort": null, "scale": {"type": "point", "padding": 0.5, "domain": ["Points", "Gender", "Age", "Histologic grade", "TNM stage", "Risk score", "Total points", "1−year survival", "3−year survival", "5−year survival"]},
            "axis": {"title": null, "domain": false, "ticks": false, "labelAlign": "left", "labelBaseline": "middle", "labelPadding": 65.3, "labelFontSize": 11, "labelLimit": 200}}}},
       {"transform": [{"filter": "datum.label"}],
        "mark": {"type": "text", "fontSize": 11, "baseline": "middle", "dy": 14.5},
        "encoding": {
          "x": {"field": "tot", "type": "quantitative", "scale": {"domain": [-18.63, 120], "nice": false, "zero": false}, "axis": null},
          "y": {"field": "row", "type": "nominal", "sort": null, "scale": {"type": "point", "padding": 0.5, "domain": ["Points", "Gender", "Age", "Histologic grade", "TNM stage", "Risk score", "Total points", "1−year survival", "3−year survival", "5−year survival"]},
            "axis": {"title": null, "domain": false, "ticks": false, "labelAlign": "left", "labelBaseline": "middle", "labelPadding": 65.3, "labelFontSize": 11, "labelLimit": 200}},
          "text": {"field": "label"}}}
      ]}
    ],
    "resolve": {"scale": {"x": "independent"}}
   }
  ]
 },
 {
  "spacing": 125.3,
  "resolve": {"scale": {"color": "independent"}, "legend": {"color": "independent"}},
  "hconcat": [
   {
    "width": 233.4, "height": 194.7,
    "view": {"stroke": "black", "strokeWidth": 1},
    "title": {"text": "D", "frame": "group", "dx": -82.3, "offset": -11},
    "layer": [
     {"data": {"values": [{}]},
      "mark": {"type": "rule", "color": "#808080", "strokeWidth": 1.2},
      "encoding": {
        "x": {"datum": -0.1, "type": "quantitative", "scale": {"domain": [-0.1, 1.05], "nice": false, "zero": false},
          "axis": {"values": [0, 0.25, 0.5, 0.75, 1], "format": ".2f", "title": "Predicted OS probability", "domain": false, "tickSize": 3, "labelPadding": 3, "labelFontSize": 8.5, "titleFontSize": 8.5, "titlePadding": 3, "labelFlush": false, "labelOverlap": false}},
        "y": {"datum": -0.1, "type": "quantitative", "scale": {"domain": [-0.1, 1.05], "nice": false, "zero": false},
          "axis": {"values": [0, 0.25, 0.5, 0.75, 1], "format": ".2f", "title": "Actual OS probability", "domain": false, "tickSize": 3, "labelPadding": 6, "labelFontSize": 8.5, "titleFontSize": 8.5, "titlePadding": 7, "labelFlush": false, "labelOverlap": false}},
        "x2": {"datum": 1.05}, "y2": {"datum": 1.05}}},
     {"data": {"name": "calib"},
      "mark": {"type": "rule", "strokeWidth": 2},
      "encoding": {
        "x": {"field": "pred", "type": "quantitative", "scale": {"domain": [-0.1, 1.05], "nice": false, "zero": false},
          "axis": {"values": [0, 0.25, 0.5, 0.75, 1], "format": ".2f", "title": "Predicted OS probability", "domain": false, "tickSize": 3, "labelPadding": 3, "labelFontSize": 8.5, "titleFontSize": 8.5, "titlePadding": 3, "labelFlush": false, "labelOverlap": false}},
        "y": {"field": "lo", "type": "quantitative", "scale": {"domain": [-0.1, 1.05], "nice": false, "zero": false},
          "axis": {"values": [0, 0.25, 0.5, 0.75, 1], "format": ".2f", "title": "Actual OS probability", "domain": false, "tickSize": 3, "labelPadding": 6, "labelFontSize": 8.5, "titleFontSize": 8.5, "titlePadding": 7, "labelFlush": false, "labelOverlap": false}},
        "y2": {"field": "hi"},
        "color": {"field": "year", "type": "nominal", "scale": {"domain": ["1−year", "3−year", "5−year"], "range": ["#2222c8", "#2ee02e", "#e01e1e"]},
          "legend": {"title": null, "orient": "bottom-right", "offset": 8, "symbolType": "stroke", "symbolSize": 400, "symbolStrokeWidth": 2.5, "labelFontSize": 6.5, "labelOffset": 3, "clipHeight": 7, "rowPadding": 0, "padding": 0}}}},
     {"data": {"name": "calib"},
      "mark": {"type": "tick", "orient": "horizontal", "size": 4, "thickness": 1.5},
      "encoding": {
        "x": {"field": "pred", "type": "quantitative", "scale": {"domain": [-0.1, 1.05], "nice": false, "zero": false},
          "axis": {"values": [0, 0.25, 0.5, 0.75, 1], "format": ".2f", "title": "Predicted OS probability", "domain": false, "tickSize": 3, "labelPadding": 3, "labelFontSize": 8.5, "titleFontSize": 8.5, "titlePadding": 3, "labelFlush": false, "labelOverlap": false}},
        "y": {"field": "lo", "type": "quantitative", "scale": {"domain": [-0.1, 1.05], "nice": false, "zero": false},
          "axis": {"values": [0, 0.25, 0.5, 0.75, 1], "format": ".2f", "title": "Actual OS probability", "domain": false, "tickSize": 3, "labelPadding": 6, "labelFontSize": 8.5, "titleFontSize": 8.5, "titlePadding": 7, "labelFlush": false, "labelOverlap": false}},
        "color": {"field": "year", "type": "nominal", "scale": {"domain": ["1−year", "3−year", "5−year"], "range": ["#2222c8", "#2ee02e", "#e01e1e"]},
          "legend": {"title": null, "orient": "bottom-right", "offset": 8, "symbolType": "stroke", "symbolSize": 400, "symbolStrokeWidth": 2.5, "labelFontSize": 6.5, "labelOffset": 3, "clipHeight": 7, "rowPadding": 0, "padding": 0}}}},
     {"data": {"name": "calib"},
      "mark": {"type": "tick", "orient": "horizontal", "size": 4, "thickness": 1.5},
      "encoding": {
        "x": {"field": "pred", "type": "quantitative", "scale": {"domain": [-0.1, 1.05], "nice": false, "zero": false},
          "axis": {"values": [0, 0.25, 0.5, 0.75, 1], "format": ".2f", "title": "Predicted OS probability", "domain": false, "tickSize": 3, "labelPadding": 3, "labelFontSize": 8.5, "titleFontSize": 8.5, "titlePadding": 3, "labelFlush": false, "labelOverlap": false}},
        "y": {"field": "hi", "type": "quantitative", "scale": {"domain": [-0.1, 1.05], "nice": false, "zero": false},
          "axis": {"values": [0, 0.25, 0.5, 0.75, 1], "format": ".2f", "title": "Actual OS probability", "domain": false, "tickSize": 3, "labelPadding": 6, "labelFontSize": 8.5, "titleFontSize": 8.5, "titlePadding": 7, "labelFlush": false, "labelOverlap": false}},
        "color": {"field": "year", "type": "nominal", "scale": {"domain": ["1−year", "3−year", "5−year"], "range": ["#2222c8", "#2ee02e", "#e01e1e"]},
          "legend": {"title": null, "orient": "bottom-right", "offset": 8, "symbolType": "stroke", "symbolSize": 400, "symbolStrokeWidth": 2.5, "labelFontSize": 6.5, "labelOffset": 3, "clipHeight": 7, "rowPadding": 0, "padding": 0}}}},
     {"data": {"name": "calib"},
      "mark": {"type": "line", "strokeWidth": 2},
      "encoding": {
        "x": {"field": "pred", "type": "quantitative", "scale": {"domain": [-0.1, 1.05], "nice": false, "zero": false},
          "axis": {"values": [0, 0.25, 0.5, 0.75, 1], "format": ".2f", "title": "Predicted OS probability", "domain": false, "tickSize": 3, "labelPadding": 3, "labelFontSize": 8.5, "titleFontSize": 8.5, "titlePadding": 3, "labelFlush": false, "labelOverlap": false}},
        "y": {"field": "obs", "type": "quantitative", "scale": {"domain": [-0.1, 1.05], "nice": false, "zero": false},
          "axis": {"values": [0, 0.25, 0.5, 0.75, 1], "format": ".2f", "title": "Actual OS probability", "domain": false, "tickSize": 3, "labelPadding": 6, "labelFontSize": 8.5, "titleFontSize": 8.5, "titlePadding": 7, "labelFlush": false, "labelOverlap": false}},
        "color": {"field": "year", "type": "nominal", "scale": {"domain": ["1−year", "3−year", "5−year"], "range": ["#2222c8", "#2ee02e", "#e01e1e"]},
          "legend": {"title": null, "orient": "bottom-right", "offset": 8, "symbolType": "stroke", "symbolSize": 400, "symbolStrokeWidth": 2.5, "labelFontSize": 6.5, "labelOffset": 3, "clipHeight": 7, "rowPadding": 0, "padding": 0}}}}
    ]
   },
   {
    "width": 204.3, "height": 194.3,
    "view": {"stroke": "black", "strokeWidth": 1},
    "title": {"text": "E", "frame": "group", "dx": -48, "offset": -11},
    "layer": [
     {"data": {"values": [{}]},
      "mark": {"type": "rule", "color": "#a8a8a8", "strokeWidth": 1},
      "encoding": {
        "x": {"datum": 1.046, "type": "quantitative", "scale": {"domain": [-0.044, 1.046], "reverse": true, "nice": false, "zero": false},
          "axis": {"values": [0, 0.2, 0.4, 0.6, 0.8, 1], "format": ".1f", "title": "Specificity", "domain": false, "tickSize": 4, "labelPadding": 5.5, "labelFontSize": 10.5, "titleFontSize": 9.5, "titlePadding": 1, "labelFlush": false, "labelOverlap": false}},
        "y": {"datum": -0.046, "type": "quantitative", "scale": {"domain": [-0.07, 1.075], "nice": false, "zero": false},
          "axis": {"values": [0, 0.2, 0.4, 0.6, 0.8, 1], "format": ".1f", "title": "Sensitivity", "domain": false, "tickSize": 4, "labelAngle": -90, "labelAlign": "center", "labelBaseline": "bottom", "labelPadding": 2, "labelFontSize": 10.5, "titleFontSize": 9.5, "titlePadding": 5, "labelFlush": false, "labelOverlap": false}},
        "x2": {"datum": -0.044}, "y2": {"datum": 1.044}}},
     {"data": {"name": "roc2"},
      "mark": {"type": "line", "strokeWidth": 2.2},
      "encoding": {
        "x": {"field": "spec", "type": "quantitative", "scale": {"domain": [-0.044, 1.046], "reverse": true, "nice": false, "zero": false},
          "axis": {"values": [0, 0.2, 0.4, 0.6, 0.8, 1], "format": ".1f", "title": "Specificity", "domain": false, "tickSize": 4, "labelPadding": 5.5, "labelFontSize": 10.5, "titleFontSize": 9.5, "titlePadding": 1, "labelFlush": false, "labelOverlap": false}},
        "y": {"field": "sens", "type": "quantitative", "scale": {"domain": [-0.07, 1.075], "nice": false, "zero": false},
          "axis": {"values": [0, 0.2, 0.4, 0.6, 0.8, 1], "format": ".1f", "title": "Sensitivity", "domain": false, "tickSize": 4, "labelAngle": -90, "labelAlign": "center", "labelBaseline": "bottom", "labelPadding": 2, "labelFontSize": 10.5, "titleFontSize": 9.5, "titlePadding": 5, "labelFlush": false, "labelOverlap": false}},
        "color": {"field": "curve", "type": "nominal", "sort": null,
          "scale": {"domain": ["AUC at 1−year = 0.757", "AUC at 3−year = 0.650", "AUC at 5−year = 0.671"], "range": ["#ee1c1c", "#1c1cd2", "#2ee62e"]},
          "legend": {"title": null, "orient": "bottom-right", "offset": 5, "symbolType": "stroke", "symbolSize": 100, "symbolStrokeWidth": 2.5, "labelFontSize": 7, "labelOffset": 2, "clipHeight": 6.7, "rowPadding": 0, "padding": 0}}}}
    ]
   }
  ]
 }
]
}
